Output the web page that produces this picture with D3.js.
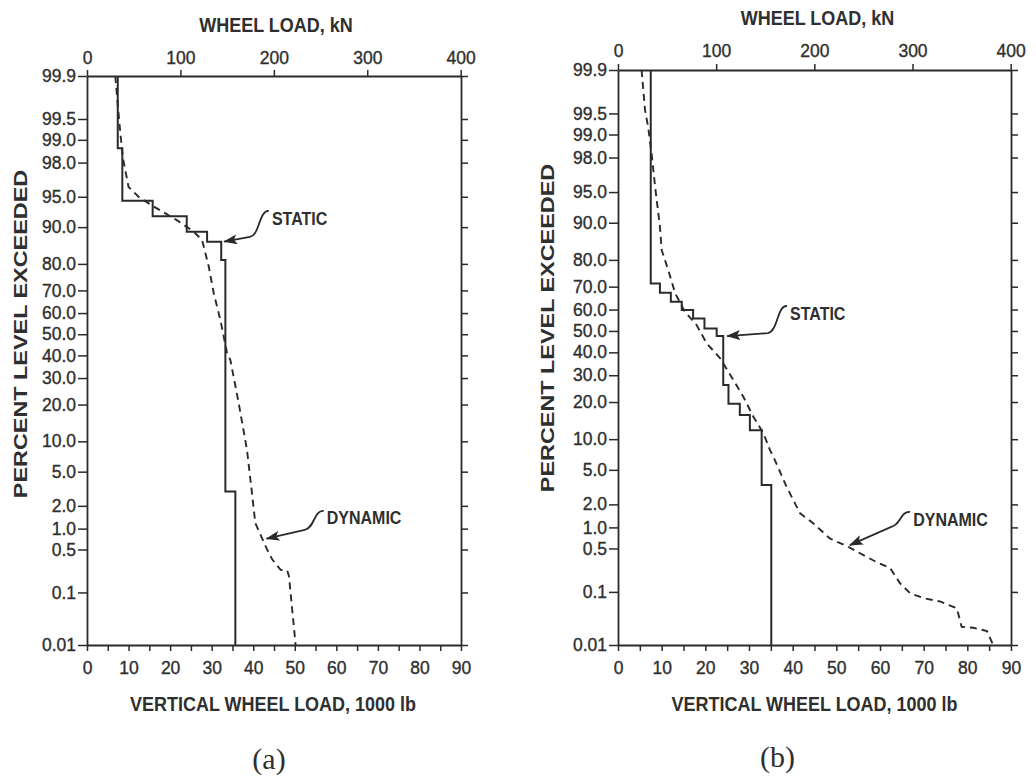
<!DOCTYPE html>
<html><head><meta charset="utf-8">
<script src="https://cdn.jsdelivr.net/npm/d3@7"></script>
<style>
html,body{margin:0;padding:0;background:#fff;}
svg{display:block;}
</style></head><body>
<svg id="chart" width="1036" height="778"></svg>
<script>
// ---------------- data ----------------
const pctTicks = [99.9, 99.5, 99.0, 98.0, 95.0, 90.0, 80.0, 70.0, 60.0, 50.0, 40.0, 30.0, 20.0, 10.0, 5.0, 2.0, 1.0, 0.5, 0.1, 0.01];
const pctTickLabels = ["99.9","99.5","99.0","98.0","95.0","90.0","80.0","70.0","60.0","50.0","40.0","30.0","20.0","10.0","5.0","2.0","1.0","0.5","0.1","0.01"];
const kipTicks = [0,5,10,15,20,25,30,35,40,45,50,55,60,65,70,75,80,85,90];
const kipLabels = [0,10,20,30,40,50,60,70,80,90];
const kNTicks = [0,100,200,300,400];

// panel (a)
const staticA_load = [7.4, 8.5, 15.8, 24.0, 28.9, 32.3, 33.3, 35.7, 35.7];
const staticA_pct  = [99.9, 98.7, 94.5, 92.1, 89.0, 86.6, 81.3, 3.0, 0.01];
const dynamicA_load = [6.8, 7.8, 8.6, 10.0, 12.4, 16.0, 21.6, 25.7, 27.7, 29.3, 30.5, 32.1, 33.7, 34.5, 36.5, 38.5, 39.7, 40.5, 43.4, 44.6, 46.6, 48.2, 48.6, 50.2];
const dynamicA_pct  = [99.9, 99.42, 98.3, 96.1, 95.0, 93.7, 91.4, 89.0, 87.0, 79.1, 68.8, 56.8, 41.0, 37.9, 20.5, 8.3, 2.86, 1.19, 0.49, 0.35, 0.24, 0.235, 0.19, 0.01];

// panel (b)
const staticB_load = [7.5, 9.6, 12.1, 14.6, 17.2, 19.8, 22.6, 24.1, 25.3, 27.9, 30.2, 32.9, 35.1, 35.1];
const staticB_pct  = [99.9, 71.3, 67.5, 63.5, 59.8, 55.9, 51.2, 47.6, 26.1, 19.4, 16.0, 12.0, 3.4, 0.01];
const dynamicB_load = [5.4, 6.2, 6.9, 7.7, 8.5, 9.6, 10.0, 11.5, 13.1, 15.3, 18.0, 20.3, 23.4, 26.4, 28.7, 31.0, 33.3, 34.8, 35.6, 38.6, 41.7, 44.7, 48.5, 52.7, 56.1, 59.2, 62.3, 64.6, 66.9, 69.9, 73.7, 77.6, 78.7, 81.4, 84.5, 85.9];
const dynamicB_pct  = [99.9, 99.55, 99.22, 98.2, 95.6, 89.2, 83.1, 76.5, 67.2, 59.0, 52.8, 44.2, 37.3, 28.1, 21.8, 15.5, 11.3, 7.9, 6.8, 3.25, 1.54, 1.14, 0.70, 0.53, 0.40, 0.31, 0.25, 0.14, 0.095, 0.078, 0.068, 0.051, 0.023, 0.022, 0.019, 0.01];

// annotations: [label, tip load, tip pct, label load, label pct]
const annotA = [["STATIC", 33.0, 86.6, 44.5, 91.8], ["DYNAMIC", 43.2, 0.72, 57.7, 1.40]];
const annotB = [["STATIC", 25.0, 47.6, 39.4, 58.4], ["DYNAMIC", 53.1, 0.56, 67.6, 1.30]];
const KN_PER_KIP = 4.44822;

// ---------------- helpers ----------------
function probit(p){
  const a=[-3.969683028665376e+01,2.209460984245205e+02,-2.759285104469687e+02,1.383577518672690e+02,-3.066479806614716e+01,2.506628277459239e+00];
  const b=[-5.447609879822406e+01,1.615858368580409e+02,-1.556989798598866e+02,6.680131188771972e+01,-1.328068155288572e+01];
  const c=[-7.784894002430293e-03,-3.223964580411365e-01,-2.400758277161838e+00,-2.549732539343734e+00,4.374664141464968e+00,2.938163982698783e+00];
  const d=[7.784695709041462e-03,3.224671290700398e-01,2.445134137142996e+00,3.754408661907416e+00];
  const pl=0.02425, ph=1-pl; let q,r;
  if(p<pl){q=Math.sqrt(-2*Math.log(p));return (((((c[0]*q+c[1])*q+c[2])*q+c[3])*q+c[4])*q+c[5])/((((d[0]*q+d[1])*q+d[2])*q+d[3])*q+1);}
  if(p<=ph){q=p-0.5;r=q*q;return (((((a[0]*r+a[1])*r+a[2])*r+a[3])*r+a[4])*r+a[5])*q/(((((b[0]*r+b[1])*r+b[2])*r+b[3])*r+b[4])*r+1);}
  q=Math.sqrt(-2*Math.log(1-p));return -(((((c[0]*q+c[1])*q+c[2])*q+c[3])*q+c[4])*q+c[5])/((((d[0]*q+d[1])*q+d[2])*q+d[3])*q+1);
}
const z = pct => probit(pct/100);

const svg = d3.select("#chart");
const INK = "#2a2a2a", TXT = "#2f2f2f";
const FONT = "'Liberation Sans', Arial, Helvetica, sans-serif";

svg.append("defs").append("marker")
  .attr("id","arrowhead").attr("viewBox","0 0 14 10").attr("refX",13).attr("refY",5)
  .attr("markerWidth",14).attr("markerHeight",10).attr("markerUnits","userSpaceOnUse")
  .attr("orient","auto")
  .append("path").attr("d","M0,0 L14,5 L0,10 L3,5 Z").attr("fill",INK);

function stretchedText(g, x, y, str, size, weight, family, sy, rot){
  g.append("text")
    .attr("transform", `translate(${x},${y}) scale(1,${sy})` + (rot ? ` rotate(${rot})` : ""))
    .attr("text-anchor","middle").attr("dy","0.36em")
    .attr("font-family", family).attr("font-size", size).attr("font-weight", weight)
    .attr("fill", TXT).text(str);
}

function panel(opt){
  const g = svg.append("g");
  const x = d3.scaleLinear().domain([0,90]).range([opt.x0, opt.x1]);
  const xkN = d3.scaleLinear().domain([0, 90*KN_PER_KIP]).range([opt.x0, opt.x1]);
  const y = d3.scaleLinear().domain([z(0.01), z(99.9)]).range([opt.yb, opt.yt]);
  const pctVals = pctTicks.map(z);

  const styleAxis = sel => {
    sel.select(".domain").attr("stroke", INK).attr("stroke-width", 1.8);
    sel.selectAll(".tick line").attr("stroke", INK).attr("stroke-width", 1.5);
    sel.selectAll(".tick text").attr("fill", TXT).attr("font-family", FONT).attr("font-size", 17.5)
      .attr("stroke", TXT).attr("stroke-width", 0.35);
  };

  g.append("g").attr("transform",`translate(${opt.x0},0)`)
    .call(d3.axisLeft(y).tickValues(pctVals).tickFormat((d,i)=>pctTickLabels[i]).tickSize(9).tickSizeOuter(0).tickPadding(2))
    .call(styleAxis);
  g.append("g").attr("transform",`translate(${opt.x1},0)`)
    .call(d3.axisRight(y).tickValues(pctVals).tickFormat("").tickSize(7).tickSizeOuter(0))
    .call(styleAxis);
  g.append("g").attr("transform",`translate(0,${opt.yt})`)
    .call(d3.axisTop(xkN).tickValues(kNTicks).tickSize(6).tickSizeOuter(0).tickPadding(opt.topPad))
    .call(styleAxis);
  g.append("g").attr("transform",`translate(0,${opt.yb})`)
    .call(d3.axisBottom(x).tickValues(kipTicks).tickFormat(d => kipLabels.includes(d) ? d : "").tickSize(6).tickSizeOuter(0).tickPadding(11))
    .call(styleAxis);

  const line = d3.line().x(d=>x(d[0])).y(d=>y(z(d[1])));
  g.append("path").datum(d3.zip(opt.sLoad, opt.sPct))
    .attr("d", line.curve(d3.curveStepBefore)).attr("fill","none")
    .attr("stroke", INK).attr("stroke-width", 2);
  g.append("path").datum(d3.zip(opt.dLoad, opt.dPct))
    .attr("d", line.curve(d3.curveLinear)).attr("fill","none")
    .attr("stroke", INK).attr("stroke-width", 1.9).attr("stroke-dasharray","7,5");

  // annotations
  opt.annot.forEach(([lab, tl, tp, ll, lp], i) => {
    const tx = x(tl), ty = y(z(tp)), lx = x(ll), ly = y(z(lp));
    const kd = opt.knee[i];
    g.append("path")
      .attr("d", `M${lx-3},${ly-7} C${lx-13},${ly-8} ${lx-12},${ly+kd-2} ${lx-22},${ly+kd} L${tx},${ty}`)
      .attr("fill","none").attr("stroke", INK).attr("stroke-width",1.8)
      .attr("marker-end","url(#arrowhead)");
    g.append("text").attr("transform",`translate(${lx},${ly}) scale(1,1.15)`).attr("dy","0.36em")
      .attr("font-family", FONT).attr("font-weight","bold").attr("font-size",16)
      .attr("fill", TXT).text(lab);
  });

  const cx = (opt.x0 + opt.x1)/2;
  stretchedText(g, cx + opt.topTitleDx, opt.topTitleY, "WHEEL LOAD, kN", 18, "bold", FONT, 1.15);
  stretchedText(g, cx + opt.botTitleDx, 704, "VERTICAL WHEEL LOAD, 1000 lb", 18, "bold", FONT, 1.15);
  stretchedText(g, opt.yTitleX, opt.yTitleY, "PERCENT LEVEL EXCEEDED", 18, "bold", FONT, 1.3, -90);
  stretchedText(g, cx + opt.capDx, opt.capY, opt.caption, 30, "normal", "'Liberation Serif', 'Times New Roman', serif", 1.0);
}

panel({x0:87, x1:461, yt:76, yb:645, topPad:6, sLoad:staticA_load, sPct:staticA_pct, dLoad:dynamicA_load, dPct:dynamicA_pct,
  annot:annotA, knee:[19,12], topTitleDx:2, topTitleY:25, botTitleDx:-1, yTitleX:21, yTitleY:334, caption:"(a)", capDx:-5, capY:758});
panel({x0:618, x1:1011, yt:70, yb:645, topPad:7, sLoad:staticB_load, sPct:staticB_pct, dLoad:dynamicB_load, dPct:dynamicB_pct,
  annot:annotB, knee:[20,8], topTitleDx:3, topTitleY:18, botTitleDx:0, yTitleX:548, yTitleY:328, caption:"(b)", capDx:-37, capY:756});
</script>
</body></html>
